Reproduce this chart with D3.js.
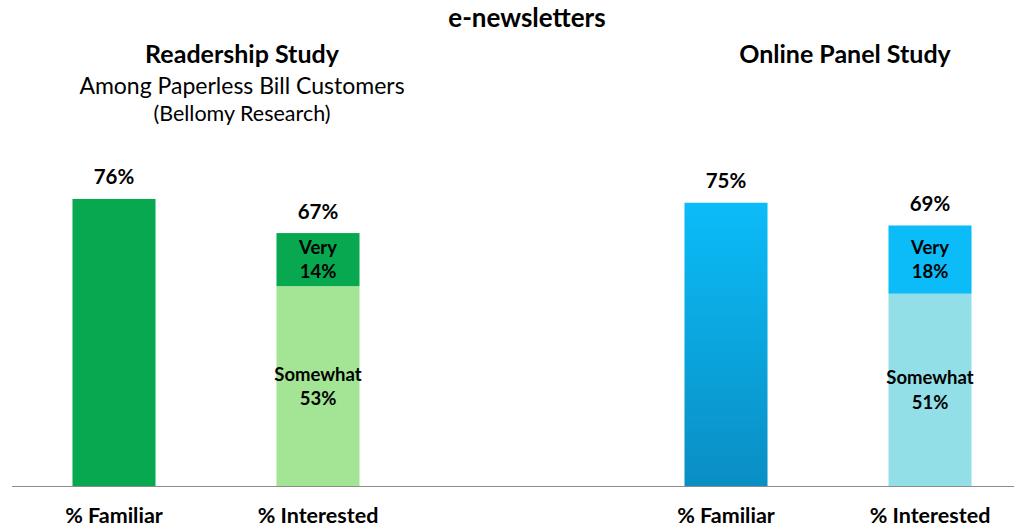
<!DOCTYPE html>
<html>
<head>
<meta charset="utf-8">
<script src="https://cdn.jsdelivr.net/npm/d3@7"></script>
<style>
  html, body { margin: 0; padding: 0; background: #fff; }
  svg text { font-family: Lato, "Open Sans", "Liberation Sans", sans-serif; fill: #000; }
</style>
</head>
<body>
<svg id="chart" width="1014" height="530"></svg>
<script>
// Study panels and their bar categories
const panels = ["Readership Study", "Online Panel Study"];
const categories = ["% Familiar", "% Interested"];

// Familiar totals per panel
const familiar = [76, 75];
// Interested split: "Very" and "Somewhat" per panel
const interestedVery = [14, 18];
const interestedSomewhat = [53, 51];
const interestedTotal = [67, 69];

// Colour sets per panel
const panelColors = [
  { familiar: "#07a84f", very: "#07a84f", somewhat: "#a3e495" },
  { familiar: "url(#blueGrad)", very: "#0bbcf8", somewhat: "#92dfe7" }
];

const svg = d3.select("#chart");
const W = 1014, H = 530;
const baseY = 487;

// Gradient for the online panel familiar bar
const defs = svg.append("defs");
const grad = defs.append("linearGradient").attr("id", "blueGrad")
  .attr("x1", 0).attr("y1", 0).attr("x2", 0).attr("y2", 1);
grad.append("stop").attr("offset", "0%").attr("stop-color", "#0bbcf8");
grad.append("stop").attr("offset", "100%").attr("stop-color", "#0a8ec3");

// Five slots: two bars per panel with an empty slot between the panels
const slots = ["0|0", "0|1", "gap", "1|0", "1|1"];
const x = d3.scaleBand().domain(slots).range([12, 1032])
  .paddingInner(0.593).paddingOuter(0.2965);
const y = d3.scaleLinear().domain([0, 100]).range([baseY, baseY - 379]);

// Build the bar segments
const segments = [];
panels.forEach((p, i) => {
  segments.push({ slot: `${i}|0`, y0: 0, y1: familiar[i], fill: panelColors[i].familiar });
  segments.push({ slot: `${i}|1`, y0: 0, y1: interestedSomewhat[i], fill: panelColors[i].somewhat,
                  lines: ["Somewhat", interestedSomewhat[i] + "%"] });
  segments.push({ slot: `${i}|1`, y0: interestedSomewhat[i], y1: interestedSomewhat[i] + interestedVery[i],
                  fill: panelColors[i].very, lines: ["Very", interestedVery[i] + "%"] });
});

svg.append("g").selectAll("rect").data(segments).join("rect")
  .attr("x", d => x(d.slot))
  .attr("width", x.bandwidth())
  .attr("y", d => y(d.y1))
  .attr("height", d => y(d.y0) - y(d.y1))
  .attr("fill", d => d.fill);

// Labels inside stacked segments
const inner = svg.append("g").selectAll("text").data(segments.filter(d => d.lines)).join("text")
  .attr("text-anchor", "middle")
  .attr("font-size", 18.5)
  .attr("font-weight", 700);
inner.each(function(d) {
  const cx = x(d.slot) + x.bandwidth() / 2;
  const cy = (y(d.y0) + y(d.y1)) / 2;
  const t = d3.select(this);
  d.lines.forEach((line, k) => {
    t.append("tspan").attr("x", cx).attr("y", cy - 6 + k * 24.5).text(line);
  });
});

// Total labels above bars
const totals = [];
panels.forEach((p, i) => {
  totals.push({ slot: `${i}|0`, v: familiar[i] });
  totals.push({ slot: `${i}|1`, v: interestedTotal[i] });
});
svg.append("g").selectAll("text").data(totals).join("text")
  .attr("x", d => x(d.slot) + x.bandwidth() / 2)
  .attr("y", d => y(d.v) - 14.5)
  .attr("text-anchor", "middle")
  .attr("font-size", 20.5)
  .attr("font-weight", 700)
  .text(d => d.v + "%");

// Baseline
svg.append("line")
  .attr("x1", 12).attr("x2", W)
  .attr("y1", baseY - 0.5).attr("y2", baseY - 0.5)
  .attr("stroke", "#8c8c8c").attr("stroke-width", 1.2);

// Category axis labels
const xAxis = d3.axisBottom(x).tickSize(0).tickPadding(0)
  .tickValues(["0|0", "0|1", "1|0", "1|1"])
  .tickFormat(d => categories[+d.split("|")[1]]);
const ax = svg.append("g").attr("transform", `translate(0,${baseY})`).call(xAxis);
ax.select(".domain").remove();
ax.selectAll("text")
  .attr("y", 36).attr("dy", 0)
  .attr("font-size", 21.5).attr("font-weight", 700)
  .attr("font-family", "Lato, 'Open Sans', sans-serif")
  .attr("fill", "#000");

// Titles
svg.append("text").attr("x", 527).attr("y", 27).attr("text-anchor", "middle")
  .attr("font-size", 26).attr("font-weight", 700).text("e-newsletters");
svg.append("text").attr("x", 242).attr("y", 63).attr("text-anchor", "middle")
  .attr("font-size", 25).attr("font-weight", 700).text(panels[0]);
svg.append("text").attr("x", 242).attr("y", 94).attr("text-anchor", "middle")
  .attr("font-size", 23).text("Among Paperless Bill Customers");
svg.append("text").attr("x", 242).attr("y", 121).attr("text-anchor", "middle")
  .attr("font-size", 21.5).text("(Bellomy Research)");
svg.append("text").attr("x", 845).attr("y", 63).attr("text-anchor", "middle")
  .attr("font-size", 25).attr("font-weight", 700).text(panels[1]);
</script>
</body>
</html>
